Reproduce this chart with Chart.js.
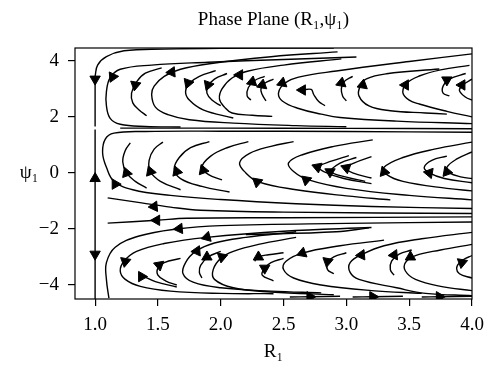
<!DOCTYPE html>
<html>
<head>
<meta charset="utf-8">
<script src="https://cdn.jsdelivr.net/npm/chart.js@4.4.0/dist/chart.umd.min.js"></script>
<style>
  html, body { margin: 0; padding: 0; background: #fff; }
</style>
</head>
<body>
<canvas id="phase-chart" width="500" height="382"></canvas>
<script>
// axis ticks
const xTicks = [1.0, 1.5, 2.0, 2.5, 3.0, 3.5, 4.0];
const yTicks = [-4, -2, 0, 2, 4];

// streamlines, each one a list of [R1, psi1]
const edgeLines = [
    [[1.0, 3.45], [1.0, 1.66]],
    [[1.0, 1.55], [1.0, -4.5]]
];

const upperBand = [
    [[2.9, 4.46], [2.0, 4.45], [1.55, 4.42], [1.23, 4.36], [1.09, 4.15], [1.02, 3.85], [1.0, 3.45]],
    [[3.08, 4.14], [2.5, 4.05], [1.9, 3.95], [1.45, 3.85], [1.2, 3.7], [1.12, 3.4], [1.09, 2.9], [1.09, 2.4], [1.12, 1.95], [1.2, 1.74], [1.4, 1.66], [1.68, 1.64]],
    [[1.53, 3.75], [1.4, 3.56], [1.33, 3.25], [1.29, 2.85], [1.3, 2.5], [1.35, 2.25], [1.41, 2.04]],
    [[2.93, 4.32], [2.4, 4.15], [1.91, 3.9], [1.68, 3.7], [1.55, 3.45], [1.47, 3.1], [1.45, 2.8], [1.48, 2.35], [1.58, 2.08], [1.75, 1.9], [2.1, 1.78], [2.6, 1.69], [3.0, 1.65]],
    [[1.96, 3.65], [1.83, 3.45], [1.75, 3.2], [1.72, 2.9], [1.75, 2.6], [1.86, 2.25], [2.1, 1.96]],
    [[2.05, 3.55], [1.95, 3.35], [1.9, 3.1], [1.89, 2.85], [1.93, 2.6], [2.0, 2.4]],
    [[2.96, 4.07], [2.5, 3.85], [2.22, 3.64], [2.09, 3.39], [2.01, 3.0], [1.99, 2.64], [2.03, 2.35], [2.09, 2.14], [2.25, 2.06], [2.41, 2.02]],
    [[2.35, 3.45], [2.27, 3.3], [2.22, 3.05], [2.21, 2.75], [2.24, 2.6]],
    [[2.42, 3.35], [2.35, 3.2], [2.32, 3.0], [2.33, 2.8], [2.36, 2.57]],
    [[4.0, 4.25], [3.5, 3.98], [2.92, 3.64], [2.62, 3.42], [2.51, 3.2], [2.46, 2.86], [2.49, 2.57], [2.62, 2.3], [2.8, 2.1], [2.95, 1.98], [3.4, 1.85], [4.0, 1.76]],
    [[2.65, 2.96], [2.72, 2.98], [2.74, 2.8], [2.78, 2.55], [2.83, 2.4]],
    [[3.05, 3.45], [2.98, 3.25], [2.96, 3.0], [2.97, 2.75], [3.0, 2.57]],
    [[3.74, 3.71], [3.32, 3.54], [3.16, 3.36], [3.11, 3.1], [3.1, 2.75], [3.18, 2.39], [3.35, 2.22], [3.63, 2.14], [3.8, 2.1]],
    [[3.98, 3.84], [3.75, 3.68], [3.58, 3.46], [3.48, 3.2], [3.45, 2.86], [3.5, 2.6], [3.58, 2.46], [3.8, 2.2], [4.0, 2.0]],
    [[3.95, 3.55], [3.82, 3.35], [3.77, 3.1], [3.77, 2.85], [3.82, 2.75]],
    [[4.0, 3.35], [3.93, 3.15], [3.9, 2.95], [3.95, 2.7], [4.0, 2.6]],
    [[1.2, 1.6], [2.0, 1.6], [3.0, 1.59], [4.0, 1.58]]
];

const middleBand = [
    [[4.0, 1.45], [3.0, 1.48], [2.0, 1.49], [1.4, 1.48], [1.15, 1.42], [1.08, 1.2], [1.06, 0.7], [1.09, 0.2], [1.15, -0.3], [1.3, -0.6], [1.6, -0.8], [2.0, -0.95], [2.6, -1.1], [3.2, -1.2], [4.0, -1.27]],
    [[1.28, 1.07], [1.24, 0.8], [1.22, 0.4], [1.25, 0.0], [1.32, -0.3], [1.41, -0.54]],
    [[1.54, 1.1], [1.47, 0.85], [1.43, 0.45], [1.44, 0.05], [1.52, -0.3], [1.68, -0.6]],
    [[1.91, 1.12], [1.76, 0.9], [1.67, 0.55], [1.63, 0.15], [1.68, -0.2], [1.85, -0.48], [2.07, -0.68]],
    [[2.22, 1.12], [2.05, 0.9], [1.92, 0.6], [1.85, 0.2], [1.9, -0.05], [2.01, -0.25]],
    [[2.58, 1.12], [2.4, 0.95], [2.23, 0.7], [2.15, 0.36], [2.2, 0.0], [2.3, -0.32], [2.6, -0.6], [3.0, -0.82], [3.35, -0.96]],
    [[3.21, 1.18], [2.9, 0.95], [2.65, 0.65], [2.54, 0.36], [2.58, 0.05], [2.7, -0.25], [3.0, -0.55], [3.5, -0.8], [4.0, -0.96]],
    [[3.02, 0.62], [2.88, 0.42], [2.78, 0.22], [2.82, 0.05], [2.98, -0.2], [3.2, -0.38]],
    [[3.08, 0.55], [2.95, 0.35], [2.88, 0.05], [3.0, -0.15], [3.15, -0.3]],
    [[3.2, 0.58], [3.06, 0.35], [3.0, 0.18], [3.05, 0.0], [3.2, -0.18]],
    [[4.0, 1.1], [3.7, 0.85], [3.45, 0.55], [3.3, 0.2], [3.32, -0.05], [3.45, -0.3], [3.8, -0.55], [4.0, -0.64]],
    [[3.8, 0.6], [3.68, 0.45], [3.62, 0.2], [3.66, 0.0], [3.78, -0.2], [4.0, -0.35]],
    [[4.0, 0.75], [3.88, 0.5], [3.8, 0.2], [3.82, 0.0], [3.92, -0.15], [4.0, -0.2]],
    [[1.1, -0.89], [1.37, -1.07], [1.6, -1.22], [1.84, -1.33], [2.5, -1.4], [4.0, -1.45]],
    [[1.1, -1.79], [1.49, -1.69], [1.73, -1.62], [2.5, -1.6], [4.0, -1.57]]
];

const lowerBand = [
    [[4.0, -1.75], [3.0, -1.8], [2.0, -1.88], [1.65, -2.0], [1.35, -2.25], [1.16, -2.65], [1.09, -3.2], [1.09, -3.8], [1.11, -4.47]],
    [[3.2, -1.95], [2.5, -2.08], [1.89, -2.3], [1.55, -2.52], [1.33, -2.8], [1.23, -3.15], [1.2, -3.5], [1.24, -3.8], [1.36, -4.05], [1.6, -4.22], [2.0, -4.3], [2.42, -4.31]],
    [[1.38, -3.68], [1.48, -3.88], [1.65, -4.07]],
    [[1.68, -3.05], [1.55, -3.2], [1.5, -3.4], [1.5, -3.65], [1.56, -3.85], [1.65, -4.0]],
    [[2.6, -2.1], [2.2, -2.3], [1.95, -2.5], [1.8, -2.8], [1.72, -3.2], [1.7, -3.6], [1.78, -3.9], [2.0, -4.1], [2.4, -4.22], [2.8, -4.28]],
    [[2.0, -2.8], [1.9, -3.0], [1.84, -3.3], [1.83, -3.55], [1.85, -3.75]],
    [[2.6, -2.3], [2.3, -2.55], [2.1, -2.8], [2.0, -3.05], [1.94, -3.45], [1.95, -3.8], [2.1, -4.1], [2.4, -4.25], [2.9, -4.35]],
    [[2.5, -2.85], [2.38, -2.92], [2.3, -3.0], [2.27, -3.15]],
    [[2.5, -3.05], [2.4, -3.2], [2.35, -3.4], [2.33, -3.65], [2.42, -3.85]],
    [[3.3, -2.4], [2.95, -2.6], [2.65, -2.86], [2.52, -3.15], [2.5, -3.45], [2.58, -3.75], [2.8, -4.0], [3.2, -4.2], [3.6, -4.3]],
    [[3.0, -2.85], [2.9, -3.0], [2.85, -3.2], [2.85, -3.45], [2.9, -3.6]],
    [[4.0, -2.12], [3.6, -2.35], [3.3, -2.6], [3.13, -2.9], [3.03, -3.2], [3.03, -3.55], [3.1, -3.8], [3.4, -4.1], [3.63, -4.3], [4.0, -4.38]],
    [[3.52, -2.75], [3.42, -2.9], [3.36, -3.15], [3.35, -3.45], [3.38, -3.65]],
    [[4.0, -2.55], [3.75, -2.75], [3.55, -2.95], [3.47, -3.2], [3.47, -3.5], [3.55, -3.8], [3.75, -4.05], [4.0, -4.2]],
    [[4.0, -2.95], [3.93, -3.1], [3.88, -3.35], [3.9, -3.6], [4.0, -3.75]],
    [[2.2, -2.2], [2.92, -2.1], [3.18, -1.96]],
    [[2.55, -4.43], [2.71, -4.42], [2.95, -4.4]],
    [[3.05, -4.43], [3.21, -4.42], [3.45, -4.4]],
    [[3.6, -4.43], [3.74, -4.42], [4.0, -4.4]]
];

// arrow heads: position and heading (degrees, 0 = up, clockwise)
const arrowR = [
    1.0, 1.14, 1.32, 1.61, 1.74, 1.9, 2.15, 2.25, 2.33, 2.49, 2.65, 2.96, 3.13, 3.47, 3.8, 3.92,
    1.0, 1.16, 1.25, 1.44, 1.65, 1.86, 2.29, 2.68, 2.77, 2.87, 3.0, 3.3, 3.66, 3.8, 1.47, 1.49,
    1.0, 1.67, 1.89, 1.24, 1.37, 1.51, 1.81, 1.89, 2.01, 2.3, 2.35, 2.65, 2.85, 3.12, 3.38, 3.51, 3.92, 2.71, 3.21, 3.74
];
const arrowPsi = [
    3.35, 3.43, 3.14, 3.6, 3.21, 3.14, 3.5, 3.25, 3.14, 3.21, 2.96, 3.21, 3.14, 3.14, 3.32, 3.14,
    -0.2, -0.4, 0.0, 0.05, 0.05, 0.1, -0.32, -0.25, 0.21, 0.04, 0.18, 0.04, 0.0, 0.04, -1.2, -1.69,
    -2.9, -1.99, -2.29, -3.16, -3.7, -3.29, -2.79, -3.0, -3.0, -3.0, -3.4, -2.86, -3.16, -2.93, -2.93, -3.0, -3.2, -4.42, -4.42, -4.42
];
const arrowAngle = [
    180, 205, 190, 25, 200, 200, 30, 130, 130, 130, 270, 130, 130, 150, 60, 150,
    0, 330, 340, 340, 340, 340, 190, 190, 290, 300, 290, 340, 160, 340, 265, 270,
    180, 265, 255, 190, 330, 290, 25, 120, 190, 120, 300, 250, 190, 25, 25, 120, 190, 90, 90, 90
];

const serif = "'Liberation Serif', 'DejaVu Serif', serif";

// 1) turn every streamline into a line dataset
const streamSets = [...edgeLines, ...upperBand, ...middleBand, ...lowerBand].map(line => ({
    data: line.map(p => ({ x: p[0], y: p[1] })),
    showLine: true,
    fill: false,
    tension: 0.4,
    borderColor: '#000',
    borderWidth: 1.4,
    pointRadius: 0
}));

// 2) arrow heads as rotated triangles
const arrowSet = {
    data: arrowR.map((r, i) => ({ x: r, y: arrowPsi[i] })),
    showLine: false,
    pointStyle: 'triangle',
    pointRadius: 6,
    pointRotation: ctx => arrowAngle[ctx.dataIndex],
    pointBackgroundColor: '#000',
    pointBorderColor: '#000',
    pointBorderWidth: 1
};

// 3) frame, title and axis names
const framePlugin = {
    id: 'frame',
    afterDraw(chart) {
        const { ctx, chartArea: a } = chart;
        ctx.save();
        ctx.strokeStyle = '#000';
        ctx.lineWidth = 1.2;
        ctx.strokeRect(a.left, a.top, a.right - a.left, a.bottom - a.top);
        ctx.fillStyle = '#000';
        ctx.textAlign = 'center';
        ctx.textBaseline = 'middle';
        ctx.font = '19px ' + serif;
        ctx.fillText('Phase Plane (R\u2081,\u03c8\u2081)', (a.left + a.right) / 2, 20);
        ctx.fillText('R\u2081', (a.left + a.right) / 2, 352);
        ctx.fillText('\u03c8\u2081', 29, (a.top + a.bottom) / 2);
        ctx.restore();
    }
};

new Chart(document.getElementById('phase-chart'), {
    type: 'scatter',
    data: { datasets: [...streamSets, arrowSet] },
    options: {
        responsive: false,
        animation: false,
        events: [],
        layout: { padding: { left: 0, right: 28, top: 48, bottom: 0 } },
        plugins: {
            legend: { display: false },
            tooltip: { enabled: false }
        },
        scales: {
            x: {
                type: 'linear',
                min: 0.84,
                max: 4.0,
                afterBuildTicks: scale => { scale.ticks = xTicks.map(v => ({ value: v })); },
                afterFit: scale => { scale.height = 83; },
                ticks: {
                    color: '#000',
                    padding: 8,
                    font: { family: serif, size: 19 },
                    callback: v => v.toFixed(1)
                },
                grid: { display: true, drawOnChartArea: false, drawTicks: true, tickLength: 7, color: '#000', lineWidth: 1.2 },
                border: { display: false }
            },
            y: {
                type: 'linear',
                min: -4.5,
                max: 4.46,
                afterBuildTicks: scale => { scale.ticks = yTicks.map(v => ({ value: v })); },
                afterFit: scale => { scale.width = 75; },
                ticks: {
                    color: '#000',
                    padding: 9,
                    font: { family: serif, size: 19 },
                    callback: v => (v < 0 ? '\u2212' + Math.abs(v) : String(v))
                },
                grid: { display: true, drawOnChartArea: false, drawTicks: true, tickLength: 7, color: '#000', lineWidth: 1.2 },
                border: { display: false }
            }
        }
    },
    plugins: [framePlugin]
});
</script>
</body>
</html>
